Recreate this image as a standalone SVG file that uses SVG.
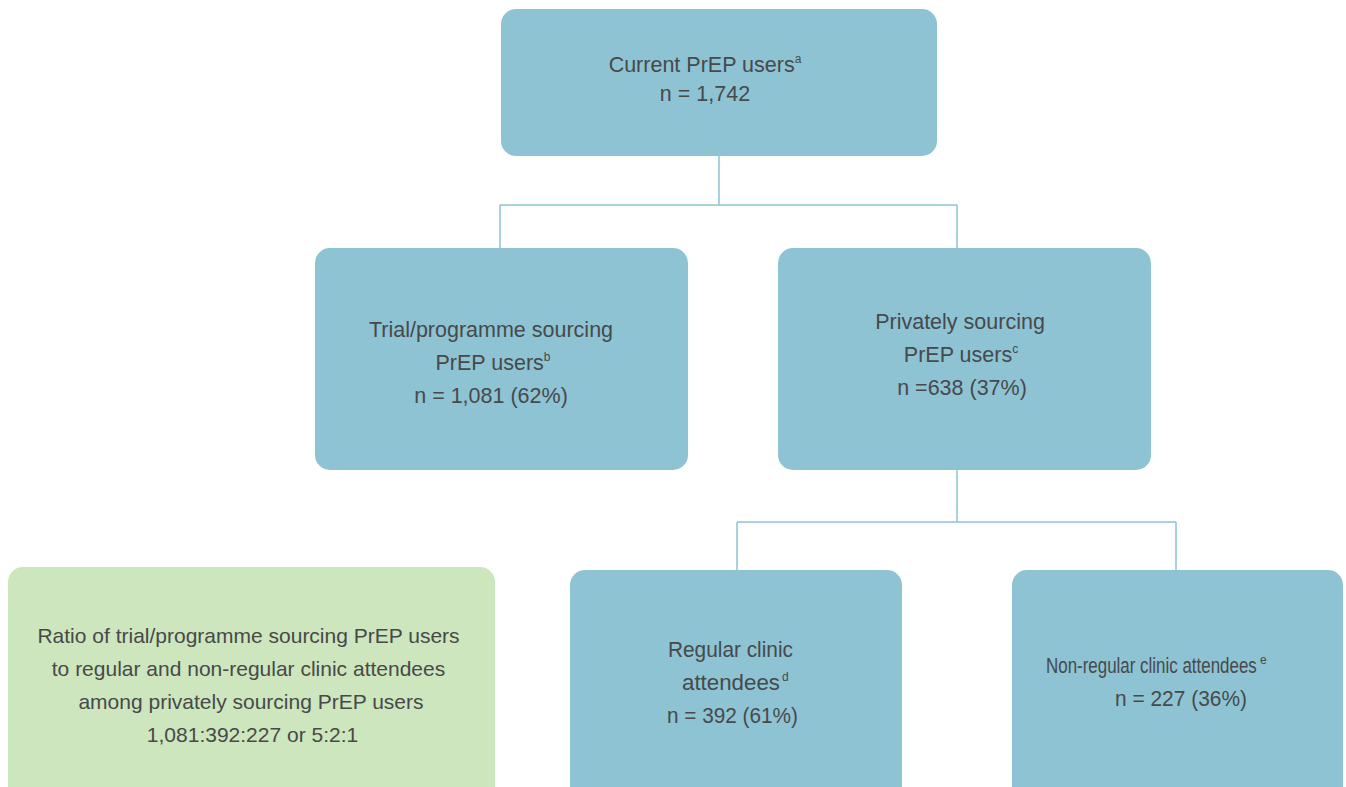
<svg xmlns="http://www.w3.org/2000/svg" width="1346" height="787" viewBox="0 0 1346 787">
<style>
.box{fill:#8dc3d3}
.green{fill:#cde6bd}
.t{font-family:"Liberation Sans",Arial,sans-serif;font-size:21.5px;fill:#48494b;text-anchor:middle}
.g{font-family:"Liberation Sans",Arial,sans-serif;font-size:21px;fill:#48494b;text-anchor:middle}
.c{font-family:"Liberation Sans",Arial,sans-serif;font-size:21.5px;fill:#48494b}
.s{font-family:"Liberation Sans",Arial,sans-serif;font-size:12px;fill:#48494b}
.sup{font-size:12px}
.ln{fill:none;stroke:#8dc3d3;stroke-width:1.5}
</style>
<rect width="1346" height="787" fill="#ffffff"/>
<g id="connectors">
<path class="ln" d="M719 156V205M500 205H957M500 205V248M957 205V248"/>
<path class="ln" d="M957 470V522M737 522H1176M737 522V570M1176 522V570"/>
</g>
<g id="node-current">
<rect class="box" x="501" y="9" width="436" height="147" rx="15"/>
<text class="t" x="705" y="72">Current PrEP users<tspan class="sup" dy="-9">a</tspan></text>
<text class="t" x="705" y="101">n = 1,742</text>
</g>
<g id="node-trial">
<rect class="box" x="315" y="248" width="373" height="222" rx="15"/>
<text class="t" x="491" y="337">Trial/programme sourcing</text>
<text class="t" x="493" y="370">PrEP users<tspan class="sup" dy="-9">b</tspan></text>
<text class="t" x="491" y="403">n = 1,081 (62%)</text>
</g>
<g id="node-private">
<rect class="box" x="778" y="248" width="373" height="222" rx="15"/>
<text class="t" x="960" y="329">Privately sourcing</text>
<text class="t" x="961" y="362">PrEP users<tspan class="sup" dy="-9">c</tspan></text>
<text class="t" x="962" y="395">n =638 (37%)</text>
</g>
<g id="node-ratio">
<rect class="green" x="8" y="567" width="487" height="240" rx="15"/>
<text class="g" x="248.5" y="643">Ratio of trial/programme sourcing PrEP users</text>
<text class="g" x="248.5" y="676">to regular and non-regular clinic attendees</text>
<text class="g" x="251" y="709">among privately sourcing PrEP users</text>
<text class="g" x="252.5" y="742">1,081:392:227 or 5:2:1</text>
</g>
<g id="node-regular">
<rect class="box" x="570" y="570" width="332" height="240" rx="15"/>
<text class="c" x="668" y="657" textLength="125" lengthAdjust="spacingAndGlyphs">Regular clinic</text>
<text class="c" x="682" y="690" textLength="98" lengthAdjust="spacingAndGlyphs">attendees</text>
<text class="s" x="782" y="681">d</text>
<text class="c" x="667" y="723" textLength="131" lengthAdjust="spacingAndGlyphs">n = 392 (61%)</text>
</g>
<g id="node-nonregular">
<rect class="box" x="1012" y="570" width="331" height="240" rx="15"/>
<text class="c" transform="translate(1046 673) scale(0.788 1)">Non-regular clinic attendees</text>
<text class="s" x="1260" y="664">e</text>
<text class="c" x="1115" y="706" textLength="132" lengthAdjust="spacingAndGlyphs">n = 227 (36%)</text>
</g>
</svg>
